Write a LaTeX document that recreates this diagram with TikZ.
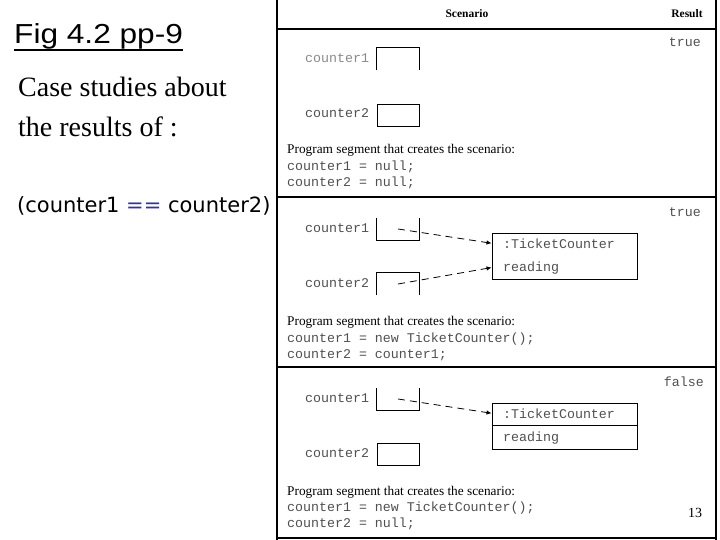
\documentclass[tikz,border=0pt]{standalone}
\usepackage{fontspec}
\setmainfont{Liberation Serif}
\setmonofont{Liberation Mono}
\newfontfamily\arialf{Liberation Sans}
\newfontfamily\tahf{DejaVu Sans}
\usetikzlibrary{arrows.meta,calc}
\definecolor{codegray}{HTML}{505050}
\definecolor{lightcode}{HTML}{8A8A8A}
\definecolor{eqblue}{HTML}{33339A}
\begin{document}
\begin{tikzpicture}[x=1pt,y=-1pt,
 txt/.style={inner sep=0pt, anchor=base west},
 code/.style={txt, font=\fontsize{13.3}{15}\selectfont\ttfamily, text=codegray},
 seg/.style={txt, font=\fontsize{13.3}{15}\selectfont},
 hdr/.style={inner sep=0pt, anchor=base, font=\fontsize{11.5}{13}\selectfont\bfseries},
 rule/.style={line width=1.2pt},
 ref/.style={inner sep=0pt, minimum width=42pt, minimum height=22pt},
 edge/.style={line width=0.9pt},
 obj/.style={draw, line width=0.9pt, inner sep=0pt, minimum width=145pt, minimum height=46pt},
 ptr/.style={dash pattern=on 7pt off 5pt, line width=0.8pt, -{Latex[length=5pt,width=4.5pt]}},
 res/.style={inner sep=0pt, anchor=base east, font=\fontsize{13.3}{15}\selectfont\ttfamily, text=codegray}
]
\useasboundingbox (0,0) rectangle (720,540);
\fill[white] (0,0) rectangle (720,540);

% left side texts
\node[inner sep=0pt, anchor=base west, font=\arialf\fontsize{27.5}{30}\selectfont] (fig) at (14,44) {\scalebox{1.15}[1]{Fig 4.2 pp-9}};
\draw[line width=2pt] ($(fig.base west)+(0,6.5)$) -- ($(fig.base east)+(0,6.5)$);
\node[txt, font=\fontsize{28}{32}\selectfont] (c1) at (18,97) {Case studies about};
\node[txt, font=\fontsize{28}{32}\selectfont] (c2) at (18,137) {the results of :};
\node[txt, font=\tahf\fontsize{21}{24}\selectfont] (eq) at (17,213) {(counter1 {\color{eqblue}==} counter2)};

% table frame
\draw[rule] (277,0) -- (277,540);
\draw[rule] (716,0) -- (716,540);
\draw[rule] (277,29) -- (716,29);
\draw[rule] (277,197) -- (716,197);
\draw[rule] (277,367) -- (716,367);
\draw[rule] (277,538) -- (716,538);
\node[hdr] (hs) at (467,18) {Scenario};
\node[hdr] (hr) at (687,18) {Result};

% section 1
\node[res] (r1) at (701,47) {true};
\node[code, text=lightcode] (l11) at (305,63) {counter1};
\node[ref] (b11) at (398,59) {};
\draw[edge] (b11.south west) -- (b11.north west) -- (b11.north east) -- (b11.south east);
\node[code] (l12) at (305,118) {counter2};
\node[ref, draw, line width=0.9pt] (b12) at (398,115) {};
\node[seg] (p1) at (287,154) {Program segment that creates the scenario:};
\node[code] (p1a) at (287,171) {counter1 = null;};
\node[code] (p1b) at (287,187) {counter2 = null;};

% section 2
\node[res] (r2) at (701,217) {true};
\node[code] (l21) at (305,233) {counter1};
\node[ref] (b21) at (398,229) {};
\draw[edge] (b21.north west) -- (b21.south west) -- (b21.south east) -- (b21.north east);
\node[code] (l22) at (305,287) {counter2};
\node[ref] (b22) at (398,284) {};
\draw[edge] (b22.south west) -- (b22.north west) -- (b22.north east) -- (b22.south east);
\node[obj] (o2) at (564.5,256) {};
\node[code] (t2a) at (503,248) {:TicketCounter};
\node[code] (t2b) at (503,271) {reading};
\draw[ptr] (b21.center) -- (o2.west |- t2a.west);
\draw[ptr] (b22.center) -- (o2.west |- t2b.west);
\node[seg] (p2) at (287,325) {Program segment that creates the scenario:};
\node[code] (p2a) at (287,342) {counter1 = new TicketCounter();};
\node[code] (p2b) at (287,358) {counter2 = counter1;};

% section 3
\node[res] (r3) at (704,386) {false};
\node[code] (l31) at (305,402) {counter1};
\node[ref] (b31) at (398,399) {};
\draw[edge] (b31.north west) -- (b31.south west) -- (b31.south east) -- (b31.north east);
\node[code] (l32) at (305,457) {counter2};
\node[ref, draw, line width=0.9pt] (b32) at (398,454) {};
\node[obj] (o3) at (564.5,426) {};
\coordinate (d3) at (0,425);
\draw[edge] (o3.west |- d3) -- (o3.east |- d3);
\node[code] (t3a) at (503,418) {:TicketCounter};
\node[code] (t3b) at (503,441) {reading};
\draw[ptr] (b31.center) -- (o3.west |- t3a.west);
\node[seg] (p3) at (287,495) {Program segment that creates the scenario:};
\node[code] (p3a) at (287,511) {counter1 = new TicketCounter();};
\node[code] (p3b) at (287,527) {counter2 = null;};
\node[inner sep=0pt, anchor=base, font=\fontsize{14}{16}\selectfont] (pg) at (695,517) {13};
\end{tikzpicture}
\end{document}
